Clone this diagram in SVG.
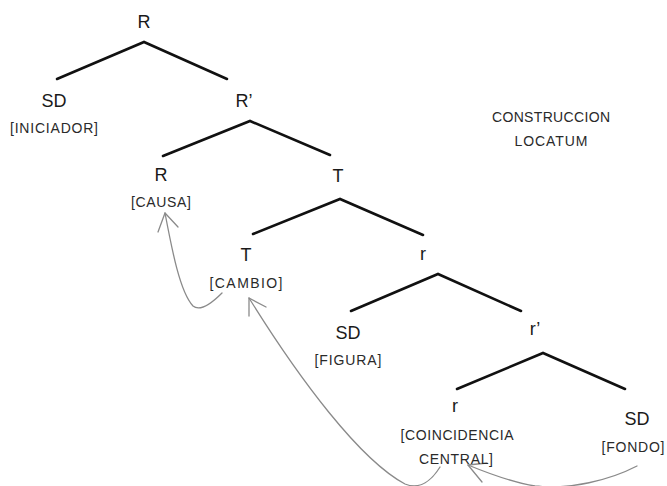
<svg xmlns="http://www.w3.org/2000/svg" width="667" height="486" viewBox="0 0 667 486">
<style>
.n{font-family:"Liberation Sans",Arial,sans-serif;font-size:18px;fill:#1a1a1a;text-anchor:middle}
.b{font-family:"Liberation Sans",Arial,sans-serif;font-size:14px;fill:#2a2a2a;text-anchor:middle}
.e{stroke:#111;stroke-width:2.6;fill:none;stroke-linecap:round;stroke-linejoin:miter}
.a{stroke:#8a8a8a;stroke-width:1.3;fill:none;stroke-linecap:round;stroke-linejoin:round}
</style>
<rect width="667" height="486" fill="#fff"/>
<g id="edges">
<polyline class="e" points="57,79 144,42 227,79"/>
<polyline class="e" points="163,156 250,121 330,155"/>
<polyline class="e" points="253,234 340,199 423,235"/>
<polyline class="e" points="351,311 438,274 521,311"/>
<polyline class="e" points="457,389 543,353 625,389"/>
</g>
<g id="arrows">
<path class="a" d="M222,293 C212,303 200,312 193,306 C180,292 172,250 165,213"/>
<polyline class="a" points="158,232 165,213 178,227"/>
<path class="a" d="M440,467 C432,480 420,490 405,484 C360,460 300,380 249,298"/>
<polyline class="a" points="249,316 249,298 266,307"/>
<path class="a" d="M637,466 C610,480 570,490 535,486 C510,482 485,472 468,465"/>
<polyline class="a" points="482,482 468,465 487,463"/>
</g>
<g id="n-R"><text class="n" x="144" y="28">R</text></g>
<g id="n-SD1"><text class="n" x="54" y="107">SD</text><text class="b" x="54" y="133" textLength="88">[INICIADOR]</text></g>
<g id="n-Rp"><text class="n" x="244" y="107">R’</text></g>
<g id="n-R2"><text class="n" x="161" y="181">R</text><text class="b" x="161" y="207" textLength="60">[CAUSA]</text></g>
<g id="n-T"><text class="n" x="338" y="182">T</text></g>
<g id="n-T2"><text class="n" x="246" y="261">T</text><text class="b" x="246" y="288" textLength="73">[CAMBIO]</text></g>
<g id="n-r"><text class="n" x="423" y="260">r</text></g>
<g id="n-SD2"><text class="n" x="348" y="339">SD</text><text class="b" x="348" y="365" textLength="67">[FIGURA]</text></g>
<g id="n-rp"><text class="n" x="535" y="335">r’</text></g>
<g id="n-r2"><text class="n" x="455" y="412">r</text><text class="b" x="457" y="440" textLength="113">[COINCIDENCIA</text><text class="b" x="456" y="464" textLength="74">CENTRAL]</text></g>
<g id="n-SD3"><text class="n" x="637" y="425">SD</text><text class="b" x="633" y="452" textLength="63">[FONDO]</text></g>
<g id="title"><text class="b" x="551" y="122" textLength="118">CONSTRUCCION</text><text class="b" x="551" y="146" textLength="73">LOCATUM</text></g>
</svg>
